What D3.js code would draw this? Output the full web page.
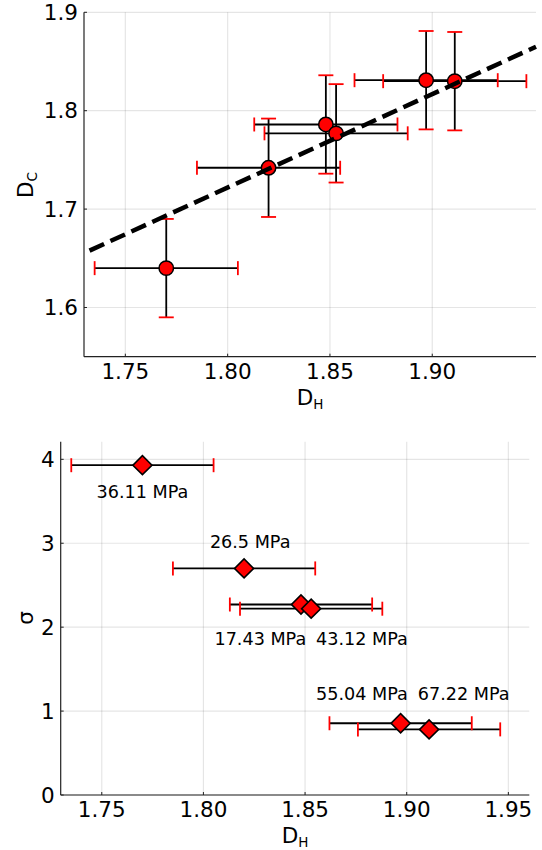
<!DOCTYPE html>
<html>
<head>
<meta charset="utf-8">
<script src="https://cdn.jsdelivr.net/npm/d3@7"></script>
<style>
  body { margin: 0; background: #fff; }
  text { font-family: "DejaVu Sans", sans-serif; fill: #000; }
</style>
</head>
<body>
<div id="chart"></div>
<script>
// Fractal dimensions.
var dH = [1.770, 1.820, 1.848, 1.853, 1.897, 1.911];
var dHErr = [0.035, 0.035, 0.035, 0.035, 0.035, 0.035];
var dC = [1.640, 1.742, 1.786, 1.777, 1.831, 1.830];
var dCErr = [0.05, 0.05, 0.05, 0.05, 0.05, 0.05];
var sigma = [3.93, 2.70, 2.27, 2.22, 0.855, 0.782];
var strengths = ["36.11 MPa", "26.5 MPa", "17.43 MPa", "43.12 MPa", "55.04 MPa", "67.22 MPa"];
// Where the strength annotations sit (data units).
var labelDH = [1.770, 1.823, 1.828, 1.878, 1.878, 1.928];
var labelSigma = [3.62, 3.02, 1.86, 1.86, 1.21, 1.21];
// Fitted line, two end points.
var fitDH = [1.7325, 1.9507];
var fitDC = [1.6578, 1.865];

var topXTicks = [1.75, 1.80, 1.85, 1.90];
var topYTicks = [1.6, 1.7, 1.8, 1.9];
var botXTicks = [1.75, 1.80, 1.85, 1.90, 1.95];
var botYTicks = [0, 1, 2, 3, 4];

var width = 542, height = 850;
var capLen = 7;   // half length of the red caps
var fs = 21.5;    // tick / axis label font size

var svg = d3.select("#chart").append("svg")
    .attr("width", width)
    .attr("height", height);

svg.append("rect").attr("width", width).attr("height", height).attr("fill", "#fff");

var points = dH.map(function(d, i) {
  return { x: d, xe: dHErr[i], y: dC[i], ye: dCErr[i], s: sigma[i], label: strengths[i], lx: labelDH[i], ly: labelSigma[i] };
});

// Draw grid, axis lines, ticks and labels for one panel.
function frame(g, x, y, xTicks, yTicks, fmtX, fmtY) {
  var x0 = x.range()[0], x1 = x.range()[1];
  var y0 = y.range()[0], y1 = y.range()[1];

  g.selectAll(".gx").data(xTicks).enter().append("line")
      .attr("x1", x).attr("x2", x)
      .attr("y1", y0).attr("y2", y1)
      .attr("stroke", "#000").attr("stroke-opacity", 0.1).attr("stroke-width", 1.2);
  g.selectAll(".gy").data(yTicks).enter().append("line")
      .attr("x1", x0).attr("x2", x1)
      .attr("y1", y).attr("y2", y)
      .attr("stroke", "#000").attr("stroke-opacity", 0.1).attr("stroke-width", 1.2);

  // ticks pointing inward
  g.selectAll(".tx").data(xTicks).enter().append("line")
      .attr("x1", x).attr("x2", x)
      .attr("y1", y0).attr("y2", y0 - 3)
      .attr("stroke", "#222").attr("stroke-width", 1);
  g.selectAll(".ty").data(yTicks).enter().append("line")
      .attr("x1", x0).attr("x2", x0 + 3)
      .attr("y1", y).attr("y2", y)
      .attr("stroke", "#222").attr("stroke-width", 1);

  g.append("line").attr("x1", x0).attr("x2", x1).attr("y1", y0).attr("y2", y0)
      .attr("stroke", "#222").attr("stroke-width", 1.2);
  g.append("line").attr("x1", x0).attr("x2", x0).attr("y1", y0).attr("y2", y1)
      .attr("stroke", "#222").attr("stroke-width", 1.2);

  g.selectAll(".lx").data(xTicks).enter().append("text")
      .attr("x", x).attr("y", y0 + 22)
      .attr("text-anchor", "middle")
      .style("font-size", fs + "px")
      .text(fmtX);
  g.selectAll(".ly").data(yTicks).enter().append("text")
      .attr("x", x0 - 6).attr("y", y)
      .attr("dy", "0.36em")
      .attr("text-anchor", "end")
      .style("font-size", fs + "px")
      .text(fmtY);
}

function xErrors(g, x, yv) {
  var e = g.append("g");
  e.selectAll("line.bar").data(points).enter().append("line")
      .attr("x1", function(d) { return x(d.x - d.xe); })
      .attr("x2", function(d) { return x(d.x + d.xe); })
      .attr("y1", yv).attr("y2", yv)
      .attr("stroke", "#000").attr("stroke-width", 1.8);
  [-1, 1].forEach(function(side) {
    e.selectAll(null).data(points).enter().append("line")
        .attr("x1", function(d) { return x(d.x + side * d.xe); })
        .attr("x2", function(d) { return x(d.x + side * d.xe); })
        .attr("y1", function(d) { return yv(d) - capLen; })
        .attr("y2", function(d) { return yv(d) + capLen; })
        .attr("stroke", "#ff0000").attr("stroke-width", 1.8);
  });
}

// ---------- top panel: D_C against D_H ----------
var xTop = d3.scaleLinear().domain([1.7298, 1.9507]).range([84, 536]);
var yTop = d3.scaleLinear().domain([1.55, 1.9]).range([356.7, 12.3]);
var gTop = svg.append("g");

frame(gTop, xTop, yTop, topXTicks, topYTicks, d3.format(".2f"), d3.format(".1f"));

xErrors(gTop, xTop, function(d) { return yTop(d.y); });

var ye = gTop.append("g");
ye.selectAll("line.bar").data(points).enter().append("line")
    .attr("x1", function(d) { return xTop(d.x); })
    .attr("x2", function(d) { return xTop(d.x); })
    .attr("y1", function(d) { return yTop(d.y - d.ye); })
    .attr("y2", function(d) { return yTop(d.y + d.ye); })
    .attr("stroke", "#000").attr("stroke-width", 1.8);
[-1, 1].forEach(function(side) {
  ye.selectAll(null).data(points).enter().append("line")
      .attr("x1", function(d) { return xTop(d.x) - capLen - 0.5; })
      .attr("x2", function(d) { return xTop(d.x) + capLen + 0.5; })
      .attr("y1", function(d) { return yTop(d.y + side * d.ye); })
      .attr("y2", function(d) { return yTop(d.y + side * d.ye); })
      .attr("stroke", "#ff0000").attr("stroke-width", 1.8);
});

gTop.selectAll("circle").data(points).enter().append("circle")
    .attr("cx", function(d) { return xTop(d.x); })
    .attr("cy", function(d) { return yTop(d.y); })
    .attr("r", 7.2)
    .attr("fill", "#ff0000")
    .attr("stroke", "#000").attr("stroke-width", 1.5);

var fitLine = d3.line()
    .x(function(d) { return xTop(d[0]); })
    .y(function(d) { return yTop(d[1]); });
gTop.append("path")
    .datum(d3.zip(fitDH, fitDC))
    .attr("d", fitLine)
    .attr("fill", "none")
    .attr("stroke", "#000")
    .attr("stroke-width", 4.5)
    .attr("stroke-dasharray", "16,7");

var lbTop = gTop.append("text")
    .attr("x", 310).attr("y", 405)
    .attr("text-anchor", "middle")
    .style("font-size", fs + "px");
lbTop.append("tspan").text("D");
lbTop.append("tspan").attr("dy", 4.3).style("font-size", "13.5px").text("H");

var lyTop = gTop.append("text")
    .attr("transform", "translate(33,185) rotate(-90)")
    .attr("text-anchor", "middle")
    .style("font-size", fs + "px");
lyTop.append("tspan").text("D");
lyTop.append("tspan").attr("dy", 4.3).style("font-size", "13.5px").text("C");

// ---------- bottom panel: sigma against D_H ----------
var xBot = d3.scaleLinear().domain([1.7298, 1.9603]).range([60.7, 529.3]);
var yBot = d3.scaleLinear().domain([0, 4.21]).range([795, 441.7]);
var gBot = svg.append("g");

frame(gBot, xBot, yBot, botXTicks, botYTicks, d3.format(".2f"), d3.format("d"));

xErrors(gBot, xBot, function(d) { return yBot(d.s); });

gBot.selectAll("path.diamond").data(points).enter().append("path")
    .attr("d", d3.symbol(d3.symbolSquare, 182))
    .attr("transform", function(d) {
      return "translate(" + xBot(d.x) + "," + yBot(d.s) + ") rotate(45)";
    })
    .attr("fill", "#ff0000")
    .attr("stroke", "#000").attr("stroke-width", 1.6);

gBot.selectAll("text.ann").data(points).enter().append("text")
    .attr("x", function(d) { return xBot(d.lx); })
    .attr("y", function(d) { return yBot(d.ly); })
    .attr("dy", "0.36em")
    .attr("text-anchor", "middle")
    .style("font-size", "17.6px")
    .text(function(d) { return d.label; });

var lbBot = gBot.append("text")
    .attr("x", 295).attr("y", 843)
    .attr("text-anchor", "middle")
    .style("font-size", fs + "px");
lbBot.append("tspan").text("D");
lbBot.append("tspan").attr("dy", 4.3).style("font-size", "13.5px").text("H");

gBot.append("text")
    .attr("transform", "translate(33,618) rotate(-90)")
    .attr("text-anchor", "middle")
    .style("font-size", fs + "px")
    .text("σ");
</script>
</body>
</html>
